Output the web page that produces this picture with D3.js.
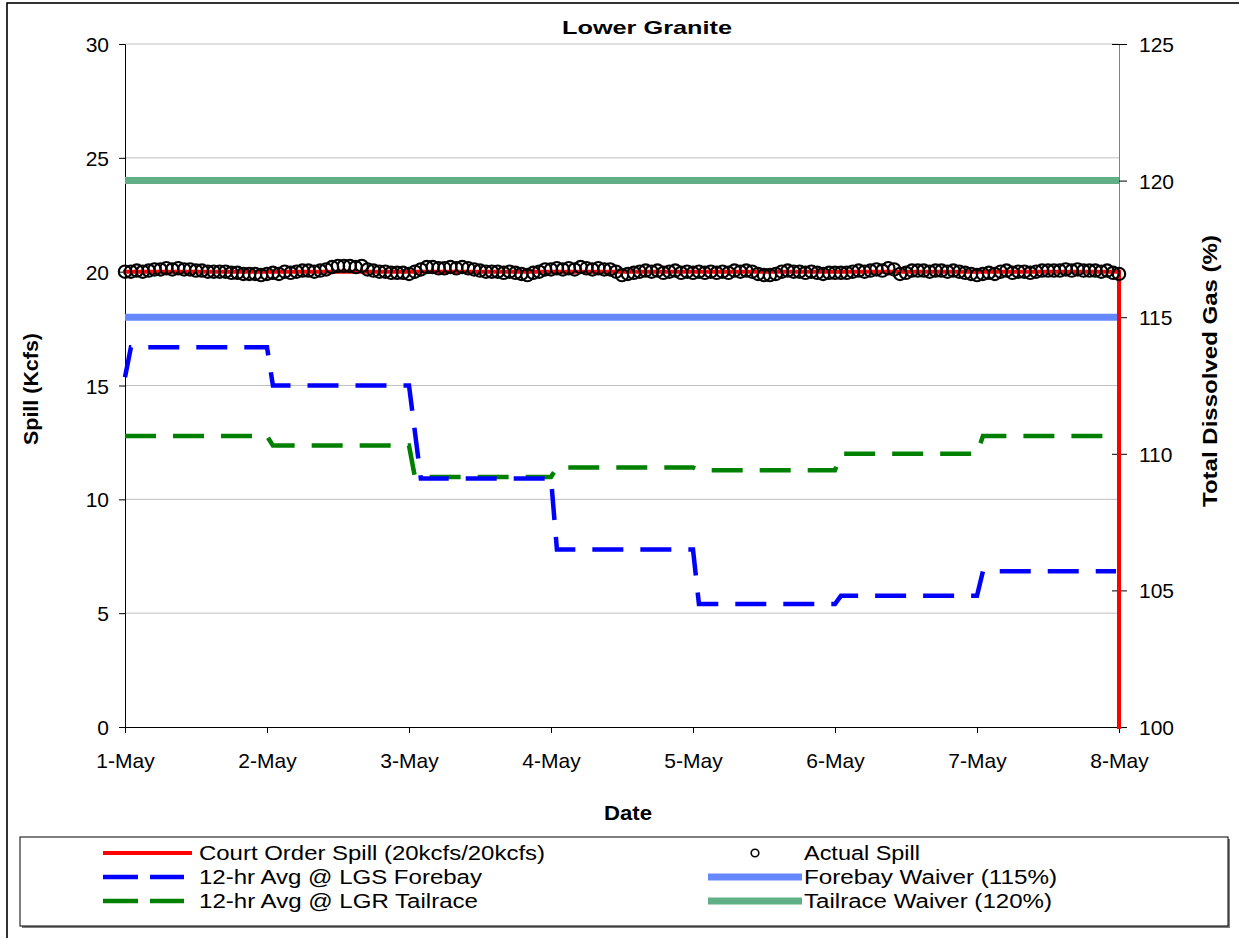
<!DOCTYPE html>
<html>
<head>
<meta charset="utf-8">
<script src="https://cdn.jsdelivr.net/npm/d3@7"></script>
<style>
  html, body { margin: 0; padding: 0; background: #fff; }
  svg { display: block; }
  text { font-family: "Liberation Sans", Arial, sans-serif; fill: #000; }
</style>
</head>
<body>
<svg id="chart" width="1239" height="938"></svg>
<script>
// ---------------- DATA ----------------
const chartTitle = "Lower Granite";
const xTickLabels = ["1-May", "2-May", "3-May", "4-May", "5-May", "6-May", "7-May", "8-May"];
const xTickHours = [0, 24, 48, 72, 96, 120, 144, 168];
const leftTicks = [0, 5, 10, 15, 20, 25, 30];
const rightTicks = [100, 105, 110, 115, 120, 125];

// Court order spill (kcfs): [hour, value]
const courtOrderSpill = [[0, 20], [168, 20], [168, 0]];

// Actual spill (kcfs), hourly from 1-May 00:00 to 8-May 00:00
const actualSpill = [
  20.0, 20.0, 20.05, 20.0, 20.05, 20.1, 20.1, 20.15, 20.1, 20.15, 20.1, 20.1,
  20.05, 20.05, 20.0, 20.0, 20.0, 20.0, 19.95, 19.95, 19.9, 19.9, 19.9, 19.85,
  19.9, 19.95, 19.9, 20.0, 19.95, 20.0, 20.05, 20.05, 20.0, 20.05, 20.1, 20.2,
  20.25, 20.25, 20.25, 20.2, 20.25, 20.1, 20.05, 20.0, 20.0, 19.95, 19.95, 19.95,
  19.9, 20.0, 20.1, 20.2, 20.2, 20.15, 20.15, 20.2, 20.15, 20.2, 20.15, 20.1,
  20.05, 20.0, 20.0, 20.0, 19.95, 20.0, 19.95, 19.9, 19.85, 19.95, 20.0, 20.1,
  20.1, 20.15, 20.1, 20.15, 20.1, 20.2, 20.15, 20.1, 20.15, 20.1, 20.1, 20.0,
  19.85, 19.9, 19.95, 20.0, 20.05, 20.0, 20.05, 19.95, 20.0, 20.05, 19.95, 20.0,
  19.95, 20.0, 19.95, 20.0, 19.95, 20.0, 19.95, 20.05, 20.0, 20.05, 20.0, 19.9,
  19.85, 19.85, 19.9, 20.0, 20.05, 20.0, 20.0, 19.95, 20.0, 19.95, 19.9, 19.95,
  19.95, 19.95, 19.95, 20.0, 20.05, 20.0, 20.05, 20.1, 20.05, 20.15, 20.1, 19.9,
  19.95, 20.05, 20.05, 20.05, 20.0, 20.05, 20.05, 20.0, 20.05, 20.0, 19.95, 19.9,
  19.85, 19.9, 19.95, 19.9, 20.0, 20.05, 19.95, 20.0, 20.0, 19.95, 20.0, 20.05,
  20.05, 20.05, 20.05, 20.1, 20.05, 20.1, 20.05, 20.05, 20.05, 20.0, 20.05, 19.95,
  19.9
];

// 12-hr average TDG (%) at LGS forebay: [hour, value]
const forebayAvg = [
  [0, 112.8], [1, 113.9], [24, 113.9], [25, 112.5], [48, 112.5], [50, 109.1],
  [72, 109.1], [73, 106.5], [96, 106.5], [97, 104.5], [120, 104.5], [121, 104.8],
  [144, 104.8], [145, 105.7], [167.5, 105.7]
];
// 12-hr average TDG (%) at LGR tailrace: [hour, value]
const tailraceAvg = [
  [0, 110.65], [24, 110.65], [25, 110.3], [48, 110.3], [49, 109.15], [72, 109.15],
  [73, 109.5], [96, 109.5], [97, 109.4], [120, 109.4], [121, 110.0], [144, 110.0],
  [145, 110.65], [167.5, 110.65]
];
// Waivers (%)
const forebayWaiver = 115;
const tailraceWaiver = 120;

const legendLabels = [
  "Court Order Spill (20kcfs/20kcfs)", "Actual Spill",
  "12-hr Avg @ LGS Forebay", "Forebay Waiver (115%)",
  "12-hr Avg @ LGR Tailrace", "Tailrace Waiver (120%)"
];

// ---------------- CHART ----------------
const svg = d3.select("#chart");
const L = 125, R = 1119, T = 44, B = 727;

const x = d3.scaleLinear().domain([0, 168]).range([L, R]);
const yL = d3.scaleLinear().domain([0, 30]).range([B, T]);
const yR = d3.scaleLinear().domain([100, 125]).range([B, T]);

const colors = {
  court: "#FF0000", forebay: "#0000FF", tailrace: "#008000",
  fbWaiver: "#6688FF", trWaiver: "#60AF86"
};

// outer chart border
svg.append("rect").attr("x", 7).attr("y", 3).attr("width", 1260).attr("height", 960)
  .attr("fill", "none").attr("stroke", "#000").attr("stroke-width", 1.6);

// gridlines
svg.append("g").selectAll("line").data(leftTicks.filter(d => d > 0)).join("line")
  .attr("x1", L).attr("x2", R).attr("y1", d => yL(d)).attr("y2", d => yL(d))
  .attr("stroke", "#C0C0C0").attr("stroke-width", 1);

// axes
const axisFont = g => g.selectAll("text").style("font-size", "21px")
  .style("font-family", '"Liberation Sans", Arial, sans-serif').attr("fill", "#000");

const gL = svg.append("g").attr("transform", `translate(${L},0)`)
  .call(d3.axisLeft(yL).tickValues(leftTicks).tickSize(6).tickPadding(10).tickFormat(d3.format("d")));
gL.select(".domain").attr("stroke", "#000");
gL.selectAll(".tick line").attr("stroke", "#000");
axisFont(gL);
gL.selectAll("text").attr("dy", "0.36em");

const gX = svg.append("g").attr("transform", `translate(0,${B})`)
  .call(d3.axisBottom(x).tickValues(xTickHours).tickSize(6).tickPadding(10)
    .tickFormat((d, i) => xTickLabels[i]));
gX.select(".domain").attr("stroke", "#000").attr("d", `M${L},0.5H${R}`);
gX.selectAll(".tick line").attr("stroke", "#000");
axisFont(gX);
gX.selectAll("text").attr("y", 41).attr("dy", 0);

const gR = svg.append("g").attr("transform", `translate(${R},0)`)
  .call(d3.axisRight(yR).tickValues(rightTicks).tickSize(8).tickPadding(12).tickFormat(d3.format("d")));
gR.select(".domain").attr("stroke", "#808080");
gR.selectAll(".tick line").attr("stroke", "#000").attr("x1", -7).attr("x2", 8);
axisFont(gR);
gR.selectAll("text").attr("dy", "0.36em");

// waiver lines
svg.append("line").attr("x1", L).attr("x2", R)
  .attr("y1", yR(tailraceWaiver)).attr("y2", yR(tailraceWaiver))
  .attr("stroke", colors.trWaiver).attr("stroke-width", 7);
svg.append("line").attr("x1", L).attr("x2", R)
  .attr("y1", yR(forebayWaiver)).attr("y2", yR(forebayWaiver))
  .attr("stroke", colors.fbWaiver).attr("stroke-width", 7);

// TDG dashed lines
const lineR = d3.line().x(d => x(d[0])).y(d => yR(d[1]));
svg.append("path").datum(tailraceAvg).attr("d", lineR)
  .attr("fill", "none").attr("stroke", colors.tailrace).attr("stroke-width", 4.5)
  .attr("stroke-dasharray", "31,17");
svg.append("path").datum(forebayAvg).attr("d", lineR)
  .attr("fill", "none").attr("stroke", colors.forebay).attr("stroke-width", 4.5)
  .attr("stroke-dasharray", "31,17");

// court order spill
const lineL = d3.line().x(d => x(d[0])).y(d => yL(d[1]));
svg.append("path").datum(courtOrderSpill).attr("d", lineL)
  .attr("fill", "none").attr("stroke", colors.court).attr("stroke-width", 4)
  .attr("stroke-linecap", "square");

// actual spill circles
svg.append("g").selectAll("circle").data(actualSpill).join("circle")
  .attr("cx", (d, i) => x(i)).attr("cy", d => yL(d)).attr("r", 6.2)
  .attr("fill", "none").attr("stroke", "#000").attr("stroke-width", 2.1);

// titles
svg.append("text").attr("x", 647).attr("y", 34).attr("text-anchor", "middle")
  .style("font-size", "19px").style("font-weight", "bold")
  .attr("textLength", 170).attr("lengthAdjust", "spacingAndGlyphs").text(chartTitle);
svg.append("text").attr("x", 628).attr("y", 820).attr("text-anchor", "middle")
  .style("font-size", "20px").style("font-weight", "bold")
  .attr("textLength", 48).attr("lengthAdjust", "spacingAndGlyphs").text("Date");
svg.append("text").attr("transform", "translate(38,389) rotate(-90)").attr("text-anchor", "middle")
  .style("font-size", "20px").style("font-weight", "bold")
  .attr("textLength", 112).attr("lengthAdjust", "spacingAndGlyphs").text("Spill (Kcfs)");
svg.append("text").attr("transform", "translate(1217,371) rotate(-90)").attr("text-anchor", "middle")
  .style("font-size", "20px").style("font-weight", "bold")
  .attr("textLength", 272).attr("lengthAdjust", "spacingAndGlyphs").text("Total Dissolved Gas (%)");

// legend
const lg = svg.append("g");
lg.append("rect").attr("x", 22).attr("y", 839).attr("width", 1208).attr("height", 89)
  .attr("fill", "#808080");
lg.append("rect").attr("x", 20).attr("y", 837).attr("width", 1208).attr("height", 89)
  .attr("fill", "#fff").attr("stroke", "#000").attr("stroke-width", 1);

const rowY = [853, 877, 901];
const legendItems = [
  { label: legendLabels[0], col: 0, row: 0, kind: "line", color: colors.court, w: 4, len: 346 },
  { label: legendLabels[1], col: 1, row: 0, kind: "circle", len: 116 },
  { label: legendLabels[2], col: 0, row: 1, kind: "dash", color: colors.forebay, w: 4.5, len: 283 },
  { label: legendLabels[3], col: 1, row: 1, kind: "line", color: colors.fbWaiver, w: 7, len: 253 },
  { label: legendLabels[4], col: 0, row: 2, kind: "dash", color: colors.tailrace, w: 4.5, len: 279 },
  { label: legendLabels[5], col: 1, row: 2, kind: "line", color: colors.trWaiver, w: 7, len: 248 }
];
const colSym = [[103, 192], [708, 802]];
const colText = [199, 804];
legendItems.forEach(it => {
  const y = rowY[it.row];
  const [s0, s1] = colSym[it.col];
  if (it.kind === "line") {
    lg.append("line").attr("x1", s0).attr("x2", s1).attr("y1", y).attr("y2", y)
      .attr("stroke", it.color).attr("stroke-width", it.w);
  } else if (it.kind === "dash") {
    lg.append("line").attr("x1", s0).attr("x2", 184).attr("y1", y).attr("y2", y)
      .attr("stroke", it.color).attr("stroke-width", it.w).attr("stroke-dasharray", "35,12");
  } else {
    lg.append("circle").attr("cx", 755).attr("cy", y).attr("r", 3.8)
      .attr("fill", "none").attr("stroke", "#000").attr("stroke-width", 1.6);
  }
  lg.append("text").attr("x", colText[it.col]).attr("y", y + 7)
    .style("font-size", "20px").attr("textLength", it.len).attr("lengthAdjust", "spacingAndGlyphs")
    .text(it.label);
});
</script>
</body>
</html>
